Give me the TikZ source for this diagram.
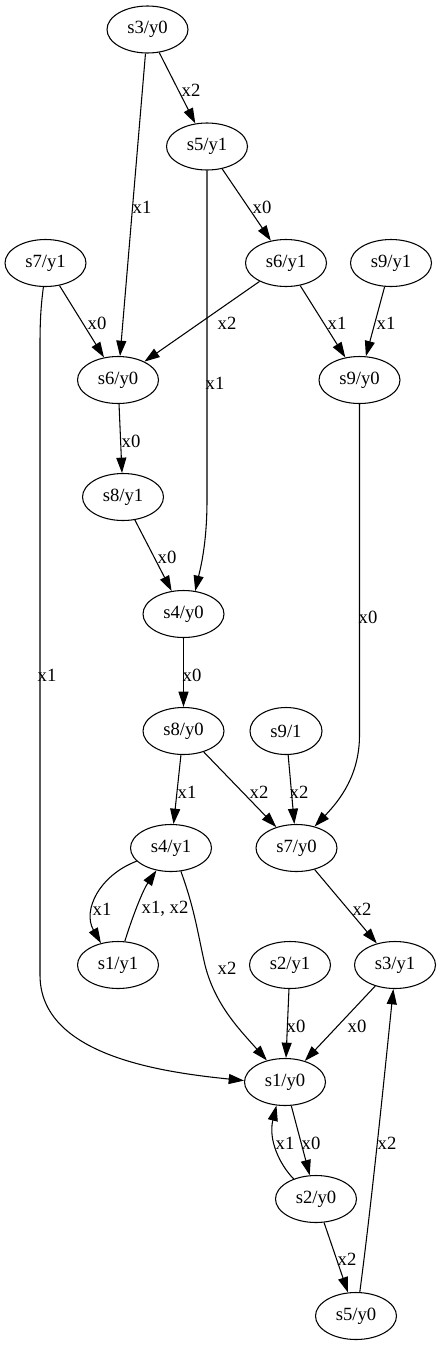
\documentclass[tikz,border=0pt]{standalone}
\usepackage{fontspec}
\setmainfont{Liberation Serif}
\usetikzlibrary{shapes.geometric,arrows.meta}
\begin{document}
\begin{tikzpicture}[x=0.75pt,y=-0.75pt,
  st/.style={ellipse,draw,line width=0.8pt,minimum width=60.75pt,minimum height=35.25pt,inner sep=0pt,font=\fontsize{14pt}{16pt}\selectfont},
  lb/.style={inner sep=0pt,font=\fontsize{14pt}{16pt}\selectfont},
  conn/.style={draw,line width=0.8pt,-{Triangle[length=11.5pt,width=7.5pt]}}]
\useasboundingbox[fill=white] (0,0) rectangle (442,1346);
% states
\node[st] (s3y0) at (147.5,29.5) {s3/y0};
\node[st] (s5y1) at (207,146.5) {s5/y1};
\node[st] (s7y1) at (45.5,263) {s7/y1};
\node[st] (s6y1) at (286,263) {s6/y1};
\node[st] (s9y1) at (391,263) {s9/y1};
\node[st] (s6y0) at (118,380) {s6/y0};
\node[st] (s9y0) at (359.5,380) {s9/y0};
\node[st] (s8y1) at (123,497) {s8/y1};
\node[st] (s4y0) at (183.5,614) {s4/y0};
\node[st] (s8y0) at (183.5,731) {s8/y0};
\node[st,minimum width=54pt] (s91) at (286,731) {s9/1};
\node[st] (s4y1) at (171,848) {s4/y1};
\node[st] (s7y0) at (296.5,848) {s7/y0};
\node[st] (s1y1) at (118,965) {s1/y1};
\node[st] (s2y1) at (290,965) {s2/y1};
\node[st] (s3y1) at (395,965) {s3/y1};
\node[st] (s1y0) at (285,1082) {s1/y0};
\node[st] (s2y0) at (316,1199) {s2/y0};
\node[st] (s5y0) at (356,1316) {s5/y0};
% transitions
\draw[conn] (s3y0) -- (s5y1);
\draw[conn] (s3y0) -- (s6y0);
\draw[conn] (s5y1) -- (s6y1);
\draw[conn] (s5y1.south) -- (207,500) .. controls (207,545) and (200,570) .. (s4y0.63);
\draw[conn] (s7y1) -- (s6y0);
\draw[conn] (s7y1.265) .. controls (41,305) and (40,320) .. (40,345) -- (40,975) .. controls (40,1055) and (160,1072) .. (s1y0.178);
\draw[conn] (s6y1) -- (s6y0);
\draw[conn] (s6y1) -- (s9y0);
\draw[conn] (s9y1) -- (s9y0);
\draw[conn] (s9y0.south) -- (359.5,735) .. controls (359.5,775) and (340,800) .. (s7y0.50);
\draw[conn] (s6y0) -- (s8y1);
\draw[conn] (s8y1) -- (s4y0);
\draw[conn] (s4y0) -- (s8y0);
\draw[conn] (s8y0) -- (s4y1);
\draw[conn] (s8y0) -- (s7y0);
\draw[conn] (s91) -- (s7y0);
\draw[conn] (s4y1.201) .. controls (100,875) and (82,910) .. (s1y1.128);
\draw[conn] (s1y1.74) .. controls (133,915) and (143,890) .. (s4y1.237);
\draw[conn] (s4y1.293) .. controls (195,910) and (198,935) .. (205,965) .. controls (215,1005) and (240,1030) .. (s1y0.130);
\draw[conn] (s7y0) -- (s3y1);
\draw[conn] (s2y1) -- (s1y0);
\draw[conn] (s3y1) -- (s1y0);
\draw[conn] (s1y0) -- (s2y0);
\draw[conn] (s2y0.138) .. controls (280,1165) and (268,1140) .. (s1y0.250);
\draw[conn] (s2y0) -- (s5y0);
\draw[conn] (s5y0.81) .. controls (372,1200) and (385,1070) .. (s3y1.266);
% labels
\node[lb] (l1) at (191,90) {x2};
\node[lb] (l2) at (142,207) {x1};
\node[lb] (l3) at (262,207) {x0};
\node[lb] (l4) at (97,323) {x0};
\node[lb] (l5) at (227,323) {x2};
\node[lb] (l6) at (337,323) {x1};
\node[lb] (l7) at (386,323) {x1};
\node[lb] (l8) at (215,383) {x1};
\node[lb] (l9) at (131,441) {x0};
\node[lb] (l10) at (167,557) {x0};
\node[lb] (l11) at (368,617) {x0};
\node[lb] (l12) at (47,675) {x1};
\node[lb] (l13) at (192,675) {x0};
\node[lb] (l14) at (187,792) {x1};
\node[lb] (l15) at (259,792) {x2};
\node[lb] (l16) at (299,792) {x2};
\node[lb] (l17) at (102,909) {x1};
\node[lb] (l18) at (165,909) {x1, x2};
\node[lb] (l19) at (362,909) {x2};
\node[lb] (l20) at (227,968) {x2};
\node[lb] (l21) at (296,1026) {x0};
\node[lb] (l22) at (357,1026) {x0};
\node[lb] (l23) at (285,1143) {x1};
\node[lb] (l24) at (311,1143) {x0};
\node[lb] (l25) at (387,1143) {x2};
\node[lb] (l26) at (347,1259) {x2};
\end{tikzpicture}
\end{document}
